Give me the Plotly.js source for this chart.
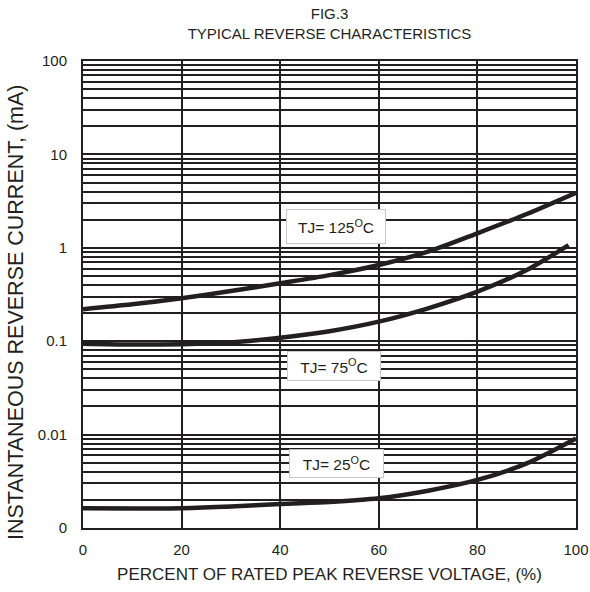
<!DOCTYPE html>
<html>
<head>
<meta charset="utf-8">
<script src="https://cdn.plot.ly/plotly-3.0.1.min.js"></script>
<style>html,body{margin:0;padding:0;background:#fff;}#chart{width:590px;height:592px;}</style>
</head>
<body>
<div id="chart"></div>
<script>
// Data
const voltagePct = [0, 10, 20, 30, 40, 50, 60, 70, 80, 90, 100];
const current125 = [0.22, 0.248, 0.288, 0.344, 0.417, 0.51, 0.655, 0.91, 1.43, 2.3, 3.89];
const voltagePct75 = [0, 10, 20, 30, 40, 50, 60, 70, 80, 90, 98.5];
const current75 = [0.094, 0.092, 0.093, 0.097, 0.109, 0.128, 0.162, 0.225, 0.339, 0.578, 1.07];
const current25 = [0.00163, 0.00162, 0.00163, 0.0017, 0.00181, 0.0019, 0.00208, 0.00251, 0.00327, 0.00492, 0.0091];
const yTickVals = [0.001, 0.01, 0.1, 1, 10, 100];
const yTickText = ['0', '0.01', '0.1', '1', '10', '100'];
const xTickVals = [0, 20, 40, 60, 80, 100];
const labels = ['TJ= 125<sup>O</sup>C', 'TJ= 75<sup>O</sup>C', 'TJ= 25<sup>O</sup>C'];

const FONT = 'Liberation Sans, Arial, sans-serif';
const INK = '#231f20';
const lineStyle = {color: INK, width: 4.5, shape: 'spline', smoothing: 0.8};

const traces = [
  {x: voltagePct, y: current125, mode: 'lines', line: lineStyle, hoverinfo: 'skip'},
  {x: voltagePct75, y: current75, mode: 'lines', line: lineStyle, hoverinfo: 'skip'},
  {x: voltagePct, y: current25, mode: 'lines', line: lineStyle, hoverinfo: 'skip'}
];

const boxAnn = (txt, x, logy, w, h) => ({
  text: txt, x: x, y: logy, xref: 'x', yref: 'y', showarrow: false,
  bgcolor: '#ffffff', bordercolor: '#c8c8c8', borderwidth: 1, borderpad: 0,
  width: w, height: h, font: {family: FONT, size: 15.5, color: INK}
});

const plotL = 83, plotR = 14, plotT = 61, plotB = 64, W = 590, H = 592;

const layout = {
  width: W, height: H,
  margin: {l: plotL, r: plotR, t: plotT, b: plotB},
  paper_bgcolor: '#fff', plot_bgcolor: '#fff',
  showlegend: false,
  font: {family: FONT, color: INK},
  title: {
    text: 'FIG.3<br>TYPICAL REVERSE CHARACTERISTICS',
    font: {family: FONT, size: 15, color: INK},
    x: 0.5, xref: 'paper', xanchor: 'center',
    y: 1 - 19 / H, yref: 'container', yanchor: 'middle'
  },
  xaxis: {
    range: [0, 100], tickvals: xTickVals,
    showgrid: true, gridcolor: INK, gridwidth: 2,
    zeroline: false,
    showline: true, mirror: true, linecolor: INK, linewidth: 2,
    ticks: 'outside', ticklen: 7, tickcolor: 'rgba(0,0,0,0)',
    tickfont: {family: FONT, size: 15, color: INK},
    title: {text: 'PERCENT OF RATED PEAK REVERSE VOLTAGE, (%)', font: {family: FONT, size: 17, color: INK}, standoff: 11}
  },
  yaxis: {
    type: 'log', range: [-3, 2],
    tickvals: yTickVals, ticktext: yTickText,
    showgrid: true, gridcolor: INK, gridwidth: 2,
    minor: {dtick: 'D1', showgrid: true, gridcolor: INK, gridwidth: 2, ticks: ''},
    zeroline: false,
    showline: true, mirror: true, linecolor: INK, linewidth: 2,
    ticks: 'outside', ticklen: 11, tickcolor: 'rgba(0,0,0,0)',
    tickfont: {family: FONT, size: 15, color: INK}
  },
  annotations: [
    boxAnn(labels[0], 51.3, 0.233, 98, 33),
    boxAnn(labels[1], 50.9, -1.266, 92, 28),
    boxAnn(labels[2], 51.5, -2.31, 93, 27),
    {
      text: 'INSTANTANEOUS REVERSE CURRENT, (mA)', textangle: -90,
      xref: 'paper', x: (16 - plotL) / (W - plotL - plotR), xanchor: 'center',
      yref: 'paper', y: 1 - (312 - plotT) / (H - plotT - plotB), yanchor: 'middle',
      showarrow: false, font: {family: FONT, size: 21.5, color: INK}
    }
  ]
};

Plotly.newPlot('chart', traces, layout, {staticPlot: true, displayModeBar: false});
</script>
</body>
</html>
